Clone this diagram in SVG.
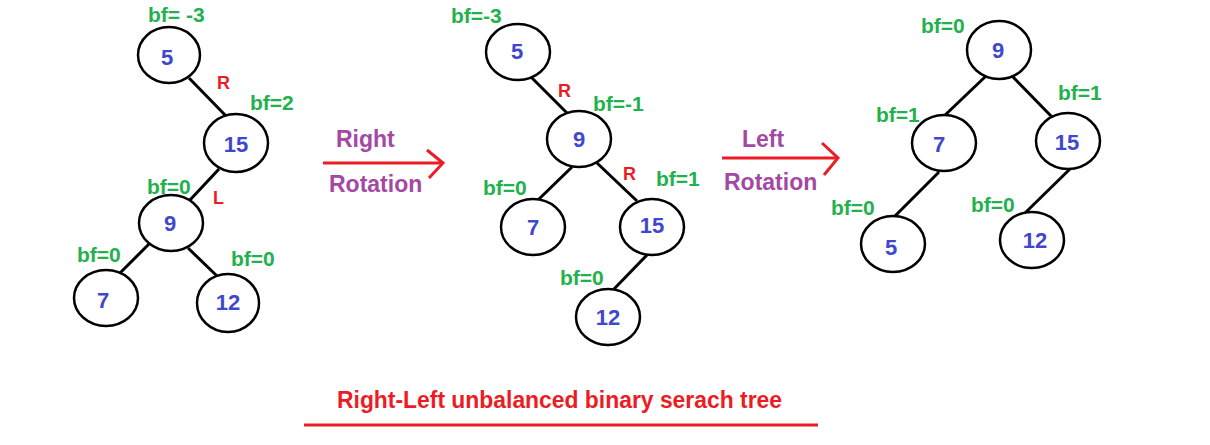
<svg xmlns="http://www.w3.org/2000/svg" width="1210" height="445" viewBox="0 0 1210 445">
<style>
  text { font-family: "Liberation Sans", Arial, sans-serif; font-weight: bold; }
  .node ellipse { fill: #ffffff; stroke: #000000; stroke-width: 2.5; }
  .num { font-size: 22px; fill: #3f48cc; text-anchor: middle; }
  .bf { font-size: 21px; fill: #22b14c; }
  .dir { font-size: 18px; fill: #ed1c24; }
  .rot { font-size: 23px; fill: #a349a4; }
  .edge { stroke: #000000; stroke-width: 3; fill: none; }
  .arrow { stroke: #ed1c24; stroke-width: 3; fill: none; }
</style>
<rect width="1210" height="445" fill="#ffffff"/>

<g id="connectors">
  <!-- tree 1 -->
  <line class="edge" x1="189" y1="78" x2="227" y2="117"/>
  <line class="edge" x1="219" y1="169" x2="190" y2="200"/>
  <line class="edge" x1="149" y1="244" x2="118" y2="275"/>
  <line class="edge" x1="188" y1="248" x2="217" y2="276"/>
  <!-- tree 2 -->
  <line class="edge" x1="531" y1="77" x2="567" y2="113"/>
  <line class="edge" x1="572" y1="167" x2="538" y2="200"/>
  <line class="edge" x1="597" y1="163" x2="637" y2="201"/>
  <line class="edge" x1="647" y1="255" x2="614" y2="289"/>
  <!-- tree 3 -->
  <line class="edge" x1="986" y1="76" x2="942" y2="118"/>
  <line class="edge" x1="1012" y1="76" x2="1052" y2="117"/>
  <line class="edge" x1="939" y1="172" x2="894" y2="217"/>
  <line class="edge" x1="1072" y1="167" x2="1025" y2="213"/>
  <!-- rotation arrows -->
  <line class="arrow" x1="323" y1="163" x2="443" y2="163"/>
  <polyline class="arrow" points="427,150 443,163 429,178"/>
  <line class="arrow" x1="722" y1="158" x2="838" y2="158"/>
  <polyline class="arrow" points="822,143 838,158 824,175"/>
</g>

<!-- Tree 1 -->
<g id="t1-n5" class="node"><ellipse cx="169" cy="55" rx="31" ry="28"/><text class="num" x="167" y="65">5</text></g>
<g id="t1-n15" class="node"><ellipse cx="236" cy="143" rx="32" ry="29"/><text class="num" x="236" y="152">15</text></g>
<g id="t1-n9" class="node"><ellipse cx="171" cy="223" rx="32" ry="28"/><text class="num" x="170" y="231">9</text></g>
<g id="t1-n7" class="node"><ellipse cx="106" cy="298" rx="32" ry="28"/><text class="num" x="103" y="308">7</text></g>
<g id="t1-n12" class="node"><ellipse cx="228" cy="303" rx="31" ry="29"/><text class="num" x="228" y="310">12</text></g>
<g id="t1-labels">
  <text class="bf" x="148" y="22">bf= -3</text>
  <text class="dir" x="217" y="89">R</text>
  <text class="bf" x="250" y="110">bf=2</text>
  <text class="bf" x="147" y="194">bf=0</text>
  <text class="dir" x="213" y="204">L</text>
  <text class="bf" x="77" y="262">bf=0</text>
  <text class="bf" x="231" y="266">bf=0</text>
</g>

<!-- Arrow 1 label -->
<g id="rot-right">
  <text class="rot" x="336" y="147">Right</text>
  <text class="rot" x="329" y="192">Rotation</text>
</g>

<!-- Tree 2 -->
<g id="t2-n5" class="node"><ellipse cx="518" cy="52" rx="32" ry="28"/><text class="num" x="517" y="59">5</text></g>
<g id="t2-n9" class="node"><ellipse cx="579" cy="139" rx="32" ry="28"/><text class="num" x="579" y="147">9</text></g>
<g id="t2-n7" class="node"><ellipse cx="533" cy="227" rx="32" ry="28"/><text class="num" x="533" y="235">7</text></g>
<g id="t2-n15" class="node"><ellipse cx="652" cy="227" rx="32" ry="28"/><text class="num" x="652" y="233">15</text></g>
<g id="t2-n12" class="node"><ellipse cx="608" cy="317" rx="32" ry="28"/><text class="num" x="608" y="325">12</text></g>
<g id="t2-labels">
  <text class="bf" x="451" y="23">bf=-3</text>
  <text class="dir" x="558" y="97">R</text>
  <text class="bf" x="593" y="111">bf=-1</text>
  <text class="dir" x="623" y="180">R</text>
  <text class="bf" x="656" y="186">bf=1</text>
  <text class="bf" x="483" y="195">bf=0</text>
  <text class="bf" x="560" y="285">bf=0</text>
</g>

<!-- Arrow 2 label -->
<g id="rot-left">
  <text class="rot" x="742" y="147">Left</text>
  <text class="rot" x="724" y="190">Rotation</text>
</g>

<!-- Tree 3 -->
<g id="t3-n9" class="node"><ellipse cx="999" cy="50" rx="32" ry="29"/><text class="num" x="998" y="58">9</text></g>
<g id="t3-n7" class="node"><ellipse cx="944" cy="143" rx="32" ry="28"/><text class="num" x="939" y="152">7</text></g>
<g id="t3-n15" class="node"><ellipse cx="1068" cy="141" rx="32" ry="28"/><text class="num" x="1067" y="150">15</text></g>
<g id="t3-n5" class="node"><ellipse cx="893" cy="244" rx="32" ry="28"/><text class="num" x="891" y="255">5</text></g>
<g id="t3-n12" class="node"><ellipse cx="1032" cy="240" rx="32" ry="28"/><text class="num" x="1035" y="248">12</text></g>
<g id="t3-labels">
  <text class="bf" x="921" y="33">bf=0</text>
  <text class="bf" x="876" y="122">bf=1</text>
  <text class="bf" x="1058" y="100">bf=1</text>
  <text class="bf" x="831" y="215">bf=0</text>
  <text class="bf" x="971" y="212">bf=0</text>
</g>

<!-- Title -->
<g id="title">
  <text x="337" y="408" font-size="23" fill="#ed1c24" textLength="445" lengthAdjust="spacingAndGlyphs">Right-Left unbalanced binary serach tree</text>
  <line x1="304" y1="425" x2="818" y2="425" stroke="#ed1c24" stroke-width="3"/>
</g>
</svg>
